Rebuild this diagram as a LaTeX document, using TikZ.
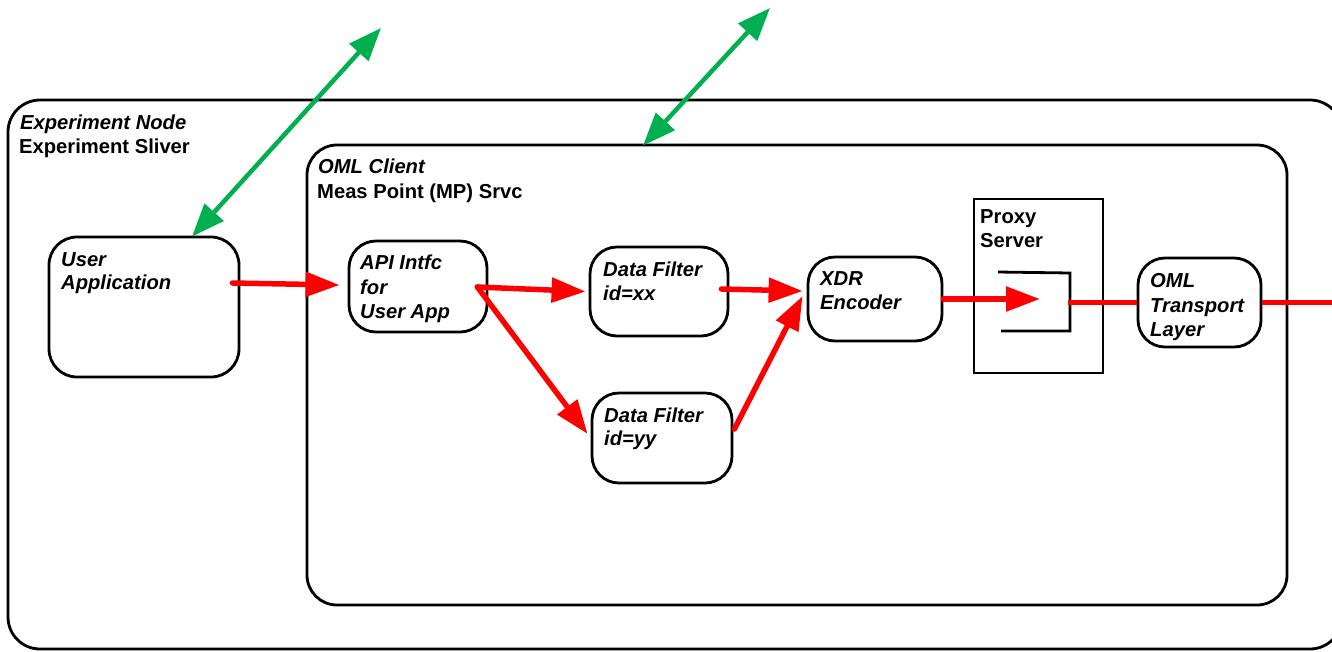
\documentclass[tikz,border=0pt]{standalone}
\usepackage{fontspec}
\setmainfont{Liberation Sans}
\usetikzlibrary{arrows.meta,calc}
\definecolor{arrred}{RGB}{255,0,0}
\definecolor{arrgreen}{RGB}{0,176,80}
\begin{document}
\begin{tikzpicture}[x=1pt,y=-1pt,
  box/.style={draw,line width=2.8pt,rounded corners=#1,inner sep=0pt},
  box/.default=27pt,
  txt/.style={anchor=base west,inner sep=0pt,font=\fontsize{20.2}{24}\selectfont\bfseries},
  itxt/.style={txt,font=\fontsize{20.2}{24}\selectfont\bfseries\itshape},
  flow/.style={draw=arrred,line width=5.5pt,line cap=round,-{Triangle[length=34pt,width=24pt]}},
  flowplain/.style={draw=arrred,line width=5.5pt},
  ctrl/.style={draw=arrgreen,line width=4.5pt,{Triangle[length=33pt,width=25pt]}-{Triangle[length=33pt,width=25pt]}}
]
\useasboundingbox (0,0) rectangle (1332,651);
% containers
\node[box=32pt,minimum width=1334pt,minimum height=549pt] (outer) at (675,374.5) {};
\node[box=30pt,minimum width=980pt,minimum height=460pt] (inner) at (797,375) {};
% boxes
\node[box=28pt,minimum width=190pt,minimum height=140pt] (user) at (144,307) {};
\node[box,minimum width=138pt,minimum height=91pt] (api) at (418,286.5) {};
\node[box,minimum width=138pt,minimum height=89pt] (dfx) at (659,291.5) {};
\node[box,minimum width=140pt,minimum height=90pt] (dfy) at (662,438) {};
\node[box,minimum width=134pt,minimum height=84pt] (xdr) at (875,299) {};
\node[draw,line width=2.8pt,inner sep=0pt,minimum width=129pt,minimum height=174pt] (proxy) at (1038.5,286) {};
\node[box,minimum width=123pt,minimum height=89pt] (oml) at (1199.5,302.5) {};
% texts
\node[itxt] (t1) at (20,129) {Experiment Node};
\node[txt] (t2) at (19,153) {Experiment Sliver};
\node[itxt] (t3) at (318,173) {OML Client};
\node[txt] (t4) at (317,198) {Meas Point (MP) Srvc};
\node[itxt] (t5) at (61,266) {User};
\node[itxt] (t6) at (61,289) {Application};
\node[itxt] (t7) at (360,269) {API Intfc};
\node[itxt] (t8) at (360,294) {for};
\node[itxt] (t9) at (360,318) {User App};
\node[itxt] (t10) at (603,276) {Data Filter};
\node[itxt] (t11) at (603,300) {id=xx};
\node[itxt] (t12) at (604,422) {Data Filter};
\node[itxt] (t13) at (604,445) {id=yy};
\node[itxt] (t14) at (820,285) {XDR};
\node[itxt] (t15) at (820,309) {Encoder};
\node[txt] (t16) at (980,223) {Proxy};
\node[txt] (t17) at (980,247) {Server};
\node[itxt] (t18) at (1150,287) {OML};
\node[itxt] (t19) at (1150,312) {Transport};
\node[itxt] (t20) at (1150,336) {Layer};
% bracket inside proxy
\draw[line width=2.8pt] ([shift={(-40.5,-14)}]proxy.center) -- ([shift={(31.5,-13)}]proxy.center)
  -- ([shift={(31.5,45)}]proxy.center) -- ([shift={(-37.5,45)}]proxy.center);
% red data flow
\draw[flow] ([shift={(-8,-24)}]user.east) -- ([shift={(-8,-1.5)}]api.west);
\draw[flow] ([shift={(-11,0.5)}]api.east) -- ([shift={(-3,0)}]dfx.west);
\draw[flow] ([shift={(-11,0.5)}]api.east) -- ([shift={(-3,-4)}]dfy.west);
\draw[flow] ([shift={(-8,-2.5)}]dfx.east) -- ([shift={(-4,-8)}]xdr.west);
\draw[flow] ([shift={(1,-9)}]dfy.east) -- ([shift={(-4,-3)}]xdr.west);
\draw[flow] (xdr.east) -- ([shift={(1.5,13)}]proxy.center);
\draw[flowplain] ([shift={(29.5,16.5)}]proxy.center) -- (oml.west);
\coordinate (exitR) at (1345,302.5);
\draw[flowplain] (oml.east) -- (exitR);
% green control arrows
\coordinate (g1top) at (381,28);
\coordinate (g2top) at (770,8);
\draw[ctrl] ([shift={(48,1)}]user.north) -- (g1top);
\draw[ctrl] ([shift={(-154,2)}]inner.north) -- (g2top);
\end{tikzpicture}
\end{document}
